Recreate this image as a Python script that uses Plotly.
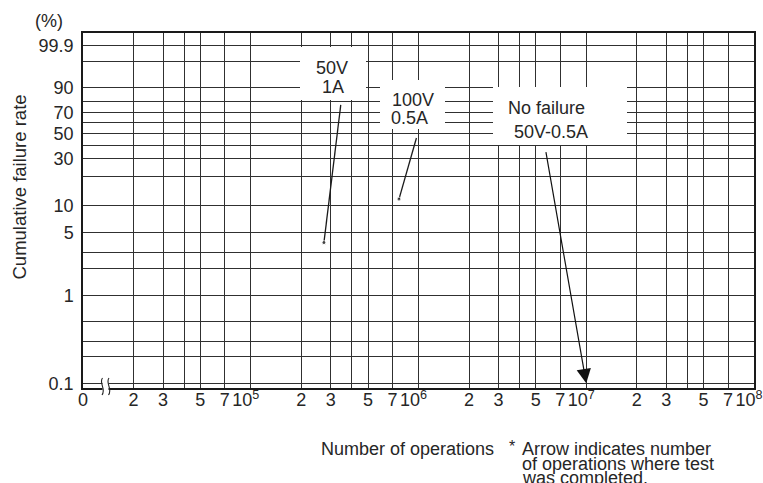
import numpy as np
import plotly.graph_objects as go

# ---------------- data ----------------
# Weibull probability paper: cumulative failure rate (%) vs number of operations
y_grid_pct = [0.1, 0.2, 0.3, 0.5, 1, 2, 3, 5, 10, 20, 30, 40, 50, 60, 70, 80, 90, 99, 99.9]
y_label_pct = [0.1, 1, 5, 10, 30, 50, 70, 90, 99.9]

x_decades = [1e4, 1e5, 1e6, 1e7, 1e8]
x_mantissas = [2, 3, 4, 5, 7]
x_mantissa_labels = ["2", "3", "", "5", "7"]
x_first_label = "0"

# failure lines (lower point -> upper point)
series_names = ["50V 1A", "100V 0.5A"]
ops_low = [2.73e5, 7.65e5]
rate_low = [3.9, 11.7]
ops_high = [3.44e5, 9.72e5]
rate_high = [77.0, 46.0]

# no-failure arrow (test completed)
nofail_ops_from = 5.73e6
nofail_rate_from = 35.7
nofail_ops_to = 1e7
nofail_rate_to = 0.1

# ---------------- helpers ----------------
def weib(p):
    p = np.asarray(p, dtype=float) / 100.0
    return np.log(-np.log(1.0 - p))

W, H = 763, 483
L, R, T, B = 83, 9, 33, 95
PW, PH = W - L - R, H - T - B

def fx(px):
    return (px - L) / PW

def fy(py):
    return (H - B - py) / PH

FONT = "Liberation Sans, Arial, Helvetica, sans-serif"
TXT = "#262626"
GRID = "#303030"

# ---------------- ticks ----------------
x_tickvals, x_ticktext = [], []
for i, d in enumerate(x_decades):
    if i == 0:
        x_tickvals.append(d)
        x_ticktext.append(x_first_label)
    else:
        x_tickvals.append(d)
        x_ticktext.append("10<sup>%d</sup>&nbsp;&nbsp;" % int(round(np.log10(d))))
    if i < len(x_decades) - 1:
        for m, lab in zip(x_mantissas, x_mantissa_labels):
            x_tickvals.append(m * d)
            x_ticktext.append(lab)

y_tickvals = list(weib(y_grid_pct))
y_ticktext = [("%g" % v) if v in y_label_pct else "" for v in y_grid_pct]

# ---------------- figure ----------------
fig = go.Figure()

for name, x0, y0, x1, y1 in zip(series_names, ops_low, rate_low, ops_high, rate_high):
    fig.add_trace(go.Scatter(
        x=[x0, x1], y=weib([y0, y1]), mode="lines+markers", name=name,
        line=dict(color="#1a1a1a", width=1.3),
        marker=dict(size=[4, 0], color="#1a1a1a"),
        showlegend=False, hoverinfo="skip"))

shapes = []
# white masks behind labels
for (x0, x1, y0, y1) in [(300, 366, 47, 100), (380, 445, 80, 129), (493, 627, 87, 145)]:
    shapes.append(dict(type="rect", xref="paper", yref="paper",
                       x0=fx(x0), x1=fx(x1), y0=fy(y1), y1=fy(y0),
                       fillcolor="white", line=dict(width=0), layer="above"))
# axis break
shapes.append(dict(type="rect", xref="paper", yref="paper",
                   x0=fx(102.5), x1=fx(108.5), y0=fy(392), y1=fy(379),
                   fillcolor="white", line=dict(width=0), layer="above"))
for dx in (0, 6.5):
    pts = [(102.5 + dx, 378), (98.5 + dx, 383), (106.5 + dx, 389), (102 + dx, 395)]
    p = "M %f,%f C %f,%f %f,%f %f,%f" % (
        fx(pts[0][0]), fy(pts[0][1]), fx(pts[1][0]), fy(pts[1][1]),
        fx(pts[2][0]), fy(pts[2][1]), fx(pts[3][0]), fy(pts[3][1]))
    shapes.append(dict(type="path", xref="paper", yref="paper", path=p,
                       line=dict(color="#222", width=1.1), layer="above"))

ann = []
def txt(s, px, py, xanchor="center", size=18, yanchor="middle"):
    ann.append(dict(text=s, x=fx(px), y=fy(py), xref="paper", yref="paper",
                    xanchor=xanchor, yanchor=yanchor, showarrow=False,
                    font=dict(family=FONT, size=size, color=TXT)))

txt("50V", 332, 68)
txt("1A", 333, 87)
txt("100V", 413, 100)
txt("0.5A", 409, 118)
txt("No failure", 506, 108, xanchor="left")
txt("50V-0.5A", 512, 132, xanchor="left")
txt("(%)", 49, 21)
txt("Number of operations", 407.5, 449)
txt("*", 512, 446, size=16)
txt("Arrow indicates number", 520, 448.5, xanchor="left")
txt("of operations where test", 520, 463.5, xanchor="left")
txt("was completed.", 520, 478, xanchor="left")

ann.append(dict(text="Cumulative failure rate", x=fx(19), y=fy(187.5),
                xref="paper", yref="paper", textangle=-90, showarrow=False,
                xanchor="center", yanchor="middle",
                font=dict(family=FONT, size=18.5, color=TXT)))

# no-failure arrow
ann.append(dict(text="", x=np.log10(nofail_ops_to), y=float(weib(nofail_rate_to)),
                ax=np.log10(nofail_ops_from), ay=float(weib(nofail_rate_from)),
                xref="x", yref="y", axref="x", ayref="y",
                showarrow=True, arrowhead=2, arrowsize=2.4, arrowwidth=1.2,
                arrowcolor="#111", standoff=0))

y_lo = float(weib(0.1)) - 4.7 / 38.19
y_hi = float(weib(99.9)) + 12.7 / 38.19

fig.update_layout(
    width=W, height=H, autosize=False,
    margin=dict(l=L, r=R, t=T, b=B, pad=0),
    paper_bgcolor="white", plot_bgcolor="white",
    font=dict(family=FONT, size=18, color=TXT),
    shapes=shapes, annotations=ann,
    xaxis=dict(type="log", range=[4, 8], tickvals=x_tickvals, ticktext=x_ticktext,
               showgrid=True, gridcolor=GRID, gridwidth=1.2, zeroline=False,
               showline=True, mirror=True, linecolor="#1a1a1a", linewidth=1.5,
               ticks="", tickangle=0, tickfont=dict(size=18, color=TXT),
               ticklabeloverflow="allow", automargin=False, ticklabelstandoff=-5),
    yaxis=dict(range=[y_lo, y_hi], tickvals=y_tickvals, ticktext=y_ticktext,
               showgrid=True, gridcolor=GRID, gridwidth=1.2, zeroline=False,
               showline=True, mirror=True, linecolor="#1a1a1a", linewidth=1.5,
               ticks="", tickfont=dict(size=18, color=TXT), ticklabelstandoff=4,
               automargin=False),
)

fig.write_html("out.html", config={"displayModeBar": False},
               post_script="document.body.style.margin='0';document.body.style.overflow='hidden';")
